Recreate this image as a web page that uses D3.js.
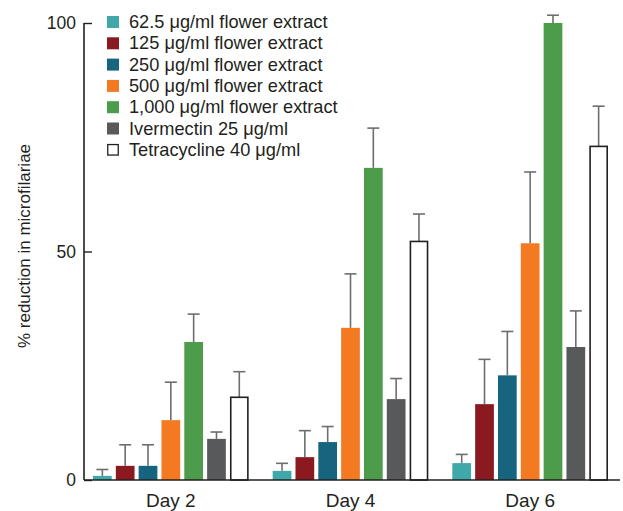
<!DOCTYPE html>
<html>
<head>
<meta charset="utf-8">
<script src="https://cdn.jsdelivr.net/npm/d3@7"></script>
<style>
  body { margin: 0; background: #fff; }
  svg { display: block; font-family: "Liberation Sans", Arial, Helvetica, sans-serif; }
</style>
</head>
<body>
<svg id="chart" width="623" height="511"></svg>
<script>
const days = ["Day 2", "Day 4", "Day 6"];
const seriesNames = [
  "62.5 \u03bcg/ml flower extract",
  "125 \u03bcg/ml flower extract",
  "250 \u03bcg/ml flower extract",
  "500 \u03bcg/ml flower extract",
  "1,000 \u03bcg/ml flower extract",
  "Ivermectin 25 \u03bcg/ml",
  "Tetracycline 40 \u03bcg/ml"
];
const colors = ["#41a8a9", "#8a1a20", "#17647e", "#f47a22", "#4c9c4b", "#58595b", "#ffffff"];
// mean values per series, per day (Day 2, Day 4, Day 6)
const means = [
  [0.9, 2.0, 3.7],
  [3.1, 5.0, 16.6],
  [3.1, 8.3, 22.9],
  [13.1, 33.3, 51.8],
  [30.2, 68.3, 100.0],
  [9.0, 17.7, 29.1],
  [18.1, 52.2, 73.0]
];
// upper end of error bars
const errTops = [
  [2.3, 3.65, 5.6],
  [7.7, 10.8, 26.4],
  [7.7, 11.7, 32.5],
  [21.4, 45.1, 67.4],
  [36.3, 77.0, 101.7],
  [10.5, 22.2, 37.0],
  [23.7, 58.2, 81.8]
];
const yTicks = [0, 50, 100];

const svg = d3.select("#chart");
const textColor = "#231f20";

const x0 = d3.scaleBand().domain(days).range([81, 620]).padding(0);
const x1 = d3.scaleBand().domain(d3.range(seriesNames.length))
  .range([12, x0.bandwidth() - 12]).paddingInner(0.18).paddingOuter(0);
const y = d3.scaleLinear().domain([0, 100]).range([480, 23]);

// y axis
const yAxis = svg.append("g").attr("transform", "translate(84,0)")
  .call(d3.axisLeft(y).tickValues(yTicks).tickSize(-8).tickSizeOuter(0).tickPadding(8));
yAxis.select(".domain").attr("stroke", textColor).attr("stroke-width", 1.6)
  .attr("d", `M0,${y(100)}V${y(0)}`);
yAxis.selectAll(".tick line").attr("stroke", textColor).attr("stroke-width", 1.4);
yAxis.selectAll(".tick text").attr("fill", textColor).attr("font-size", 17.5).attr("x", -8)
  .style("font-family", "'Liberation Sans', Arial, sans-serif");

// bars
const groups = svg.append("g").selectAll("g").data(days).join("g")
  .attr("transform", d => `translate(${x0(d)},0)`);

groups.each(function(day, di) {
  const g = d3.select(this);
  seriesNames.forEach((s, si) => {
    const v = means[si][di];
    const et = errTops[si][di];
    const bx = x1(si);
    const bw = x1.bandwidth();
    const cx = bx + bw / 2;
    // error bar
    g.append("line").attr("x1", cx).attr("x2", cx)
      .attr("y1", y(v)).attr("y2", y(et))
      .attr("stroke", "#6d6e70").attr("stroke-width", 1.6);
    g.append("line").attr("x1", cx - 6).attr("x2", cx + 6)
      .attr("y1", y(et)).attr("y2", y(et))
      .attr("stroke", "#6d6e70").attr("stroke-width", 1.6);
    if (si === 6) {
      g.append("rect").attr("x", bx + 0.8).attr("y", y(v))
        .attr("width", bw - 1.6).attr("height", y(0) - y(v))
        .attr("fill", "#fff").attr("stroke", textColor).attr("stroke-width", 1.6);
    } else {
      g.append("rect").attr("x", bx).attr("y", y(v))
        .attr("width", bw).attr("height", y(0) - y(v))
        .attr("fill", colors[si]);
    }
  });
});

// x axis
svg.append("line").attr("x1", 84).attr("x2", 620).attr("y1", y(0)).attr("y2", y(0))
  .attr("stroke", textColor).attr("stroke-width", 1.6);
svg.append("g").selectAll("text").data(days).join("text")
  .attr("x", d => x0(d) + x0.bandwidth() / 2)
  .attr("y", 507)
  .attr("text-anchor", "middle")
  .attr("font-size", 19)
  .attr("fill", textColor)
  .text(d => d);

// y label
svg.append("text")
  .attr("transform", "translate(30,246) rotate(-90)")
  .attr("text-anchor", "middle")
  .attr("font-size", 17)
  .attr("fill", textColor)
  .text("% reduction in microfilariae");

// legend
const legend = svg.append("g").attr("transform", "translate(107,16)");
seriesNames.forEach((s, i) => {
  const row = legend.append("g").attr("transform", `translate(0,${i * 21.3})`);
  if (i === 6) {
    row.append("rect").attr("x", 0.75).attr("y", 0.75).attr("width", 10.5).attr("height", 10.5)
      .attr("fill", "#fff").attr("stroke", textColor).attr("stroke-width", 1.3);
  } else {
    row.append("rect").attr("width", 12).attr("height", 12).attr("fill", colors[i]);
  }
  row.append("text").attr("x", 22).attr("y", 12)
    .attr("font-size", 18.2).attr("fill", textColor).text(s);
});
</script>
</body>
</html>
